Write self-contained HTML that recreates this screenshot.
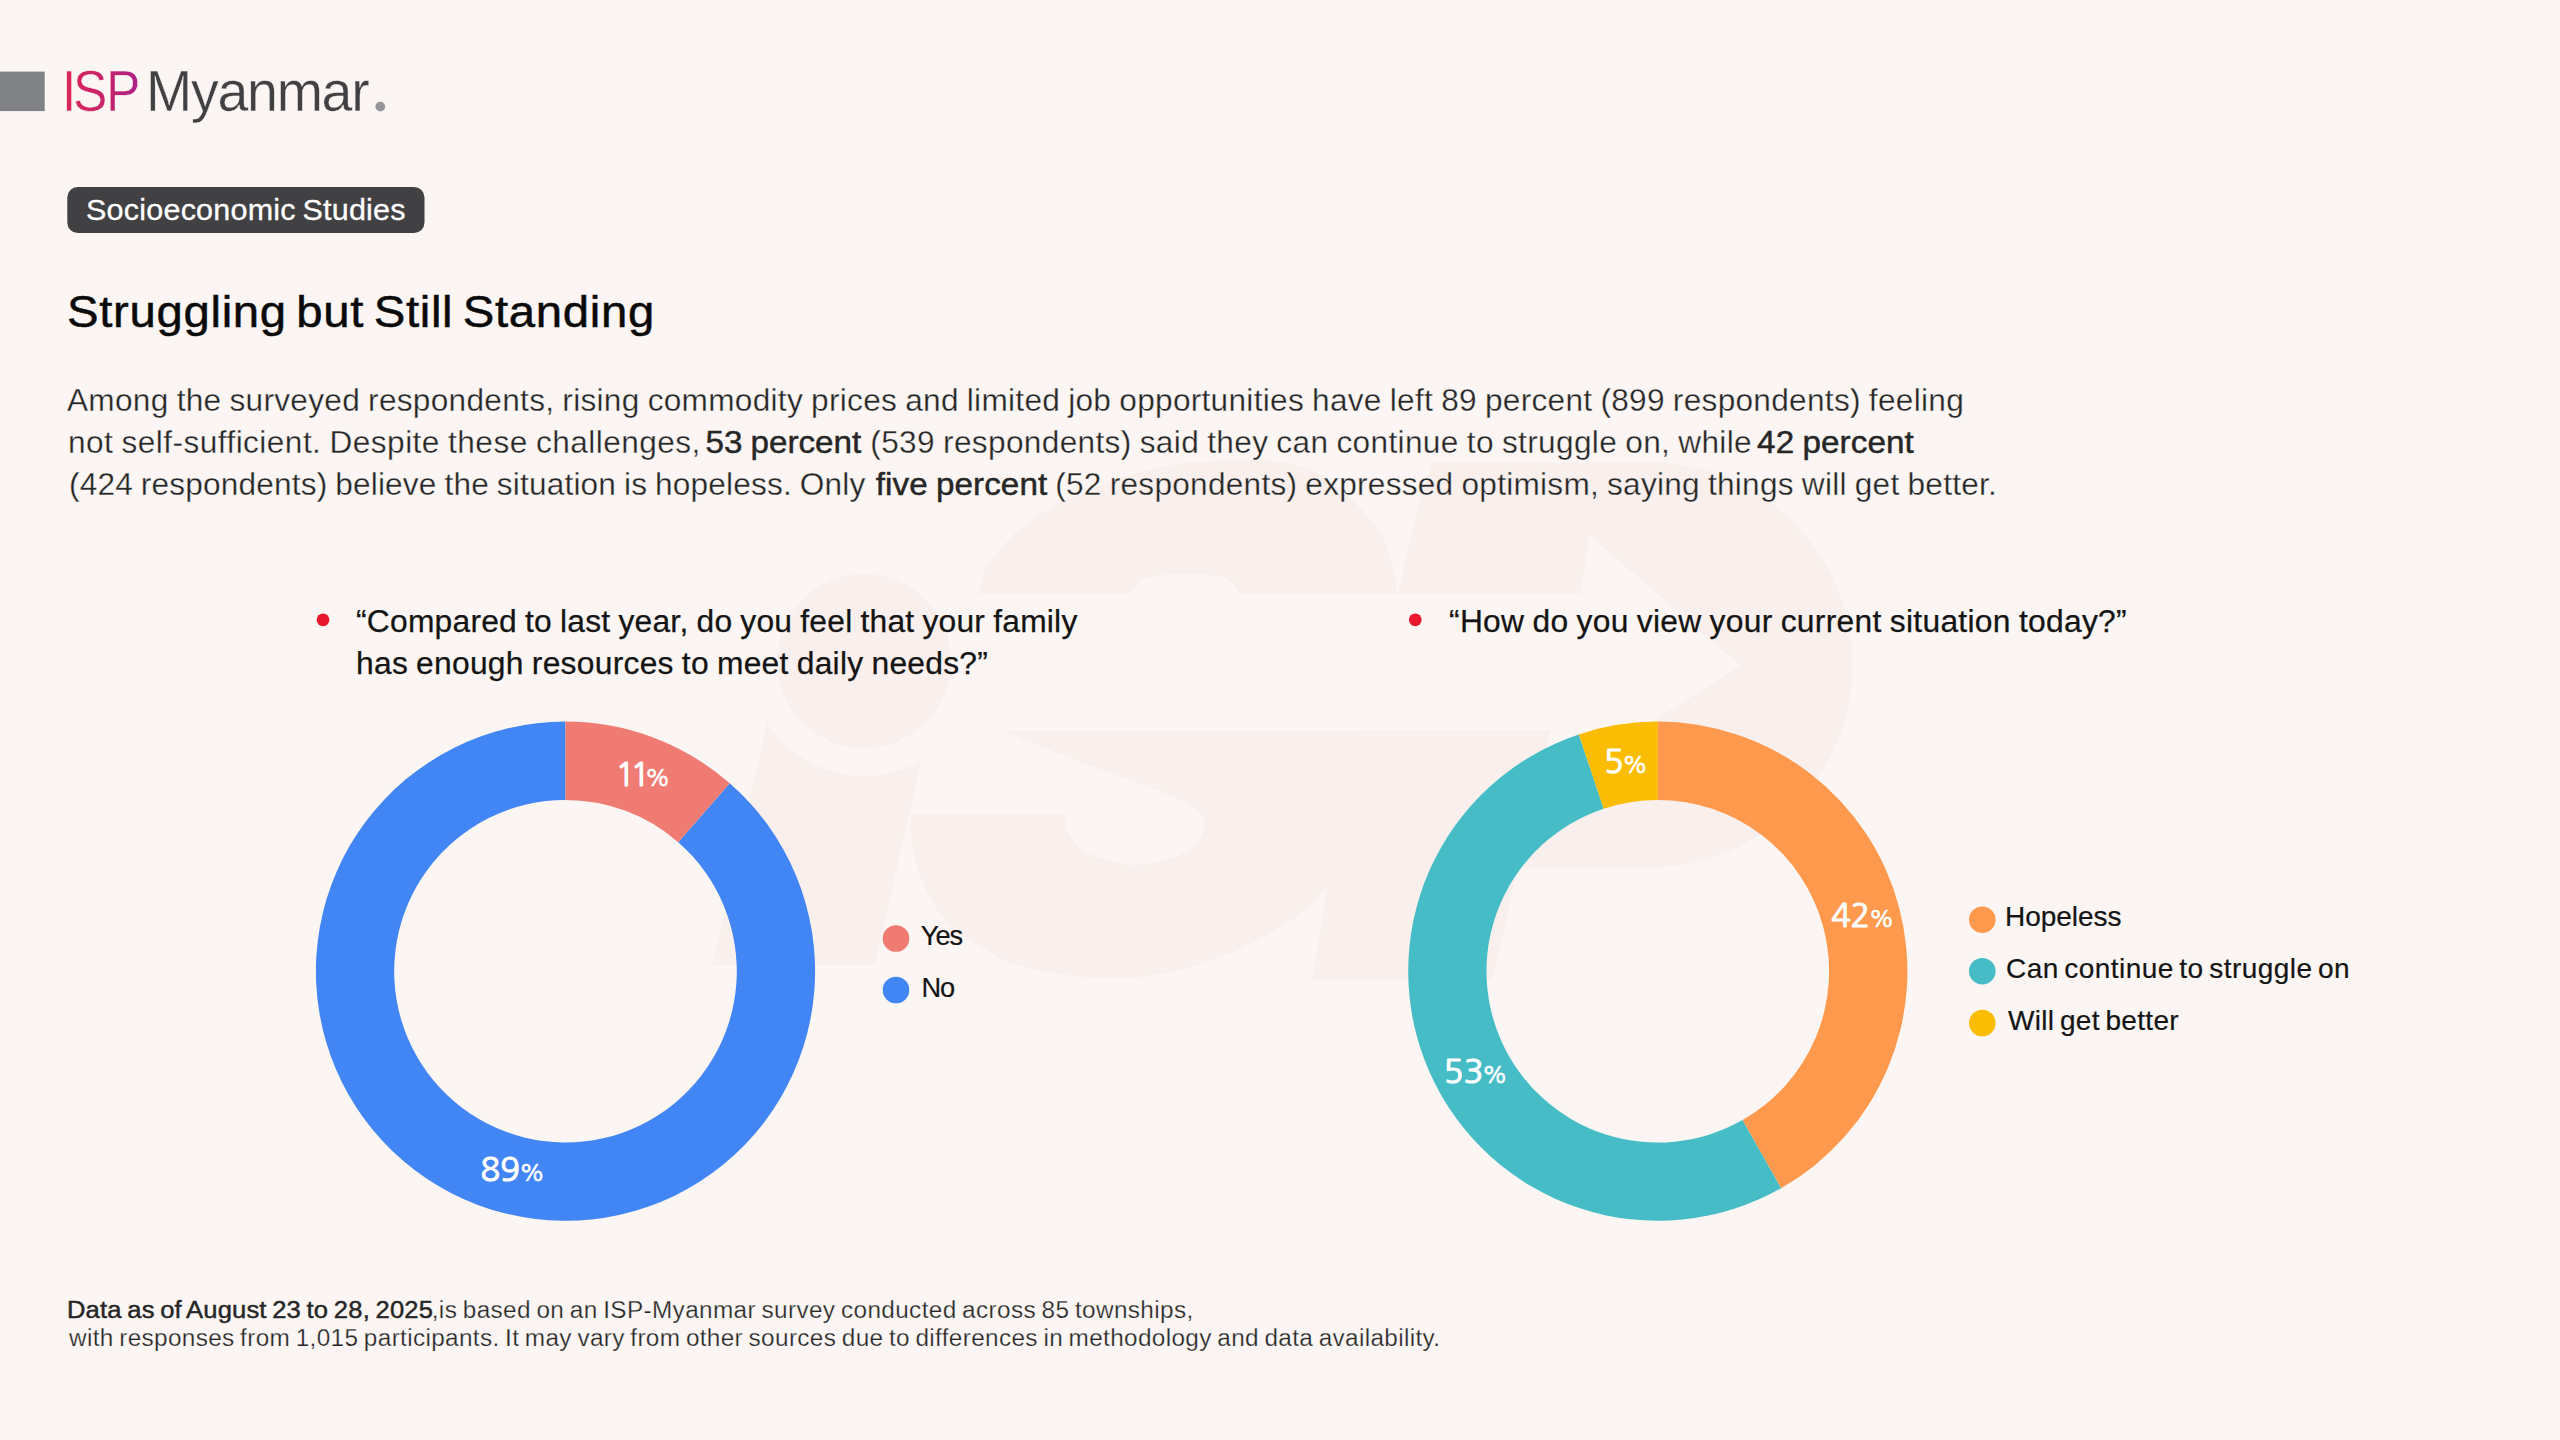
<!DOCTYPE html>
<html lang="en"><head><meta charset="utf-8"><title>Struggling but Still Standing</title>
<style>
html,body{margin:0;padding:0;}
body{width:2560px;height:1440px;background:#fbf6f3;position:relative;overflow:hidden;font-family:"Liberation Sans", sans-serif;}
.t{position:absolute;white-space:pre;line-height:1;margin:0;-webkit-text-stroke-color:currentColor;}
.t b{font-weight:400;-webkit-text-stroke:0.45px currentColor;}
.t small{font-size:23.5px;-webkit-text-stroke-width:0.7px;}
svg{position:absolute;left:0;top:0;}
</style></head><body>
<svg width="2560" height="1440" viewBox="0 0 2560 1440" style="position:absolute;left:0;top:0">
<path fill="#f9efec" d="M784.3 645L947.1 647L875 965L712.5 965Z"/>
<circle cx="864" cy="661" r="115" fill="#fbf6f3"/>
<circle cx="864" cy="661" r="87" fill="#f9efec"/>
<path fill="#f9efec" d="M979 596L979 594C980.0 590.2 981.9 577.9 985.0 571.0C988.1 564.1 992.3 558.9 997.5 552.5C1002.7 546.1 1008.8 539.0 1016.0 532.5C1023.2 526.0 1032.7 519.2 1041.0 513.8C1049.3 508.3 1052.4 506.0 1066.0 500.0C1079.6 494.0 1104.8 483.3 1122.5 477.5C1140.2 471.7 1155.8 467.8 1172.5 465.0C1189.2 462.2 1207.6 461.4 1222.5 460.6C1237.4 459.8 1249.1 459.1 1262.0 460.0C1274.9 460.9 1288.7 462.5 1300.0 466.0C1311.3 469.5 1320.8 474.8 1330.0 481.0C1339.2 487.2 1347.9 496.2 1355.0 503.0C1362.1 509.8 1367.5 515.3 1372.5 522.0C1377.5 528.7 1381.7 535.7 1385.0 543.0C1388.3 550.3 1390.4 557.8 1392.5 566.0C1394.6 574.2 1396.7 587.7 1397.5 592.0L1397.5 596Z"/>
<path fill="#f9efec" d="M1004 731L1410 731L1400 860L1327 888C1323.3 891.7 1312.8 903.4 1305.0 910.0C1297.2 916.6 1290.4 921.2 1280.0 927.5C1269.6 933.8 1255.0 941.7 1242.5 947.5C1230.0 953.3 1217.9 958.2 1205.0 962.5C1192.1 966.8 1178.3 970.4 1165.0 973.0C1151.7 975.6 1140.0 977.5 1125.0 978.0C1110.0 978.5 1090.8 977.7 1075.0 976.0C1059.2 974.3 1042.5 971.0 1030.0 968.0C1017.5 965.0 1013.3 965.2 1000.0 958.0C986.7 950.8 962.5 936.8 950.0 925.0C937.5 913.2 931.2 900.0 925.0 887.5C918.8 875.0 915.5 862.2 913.0 850.0C910.5 837.8 910.5 820.0 910.0 814.0L1065 814C1065.5 817.0 1064.2 825.5 1068.0 832.0C1071.8 838.5 1075.9 847.5 1087.5 853.0C1099.1 858.5 1120.8 865.3 1137.5 865.0C1154.2 864.7 1176.4 857.2 1187.5 851.0C1198.6 844.8 1202.8 835.2 1204.0 828.0C1205.2 820.8 1204.0 814.2 1195.0 807.5C1186.0 800.8 1170.0 795.4 1150.0 787.5C1130.0 779.6 1099.3 769.4 1075.0 760.0C1050.7 750.6 1015.8 735.8 1004.0 731.0Z"/>
<path fill="#f9efec" d="M1432 463L1650 462.5A202.5 202.5 0 0 1 1650 867.5L1518 867.5L1493 979.4L1312 979.4L1327 888L1398 592L1417.5 510Z"/>
<path fill="#fbf6f3" d="M960 593.7L1580.6 593.7L1589.4 535.6L1740.3 665.8L1535 796L1550 730.5L960 730.5Z"/>
<path fill="#fbf6f3" d="M1130 596C1134 582 1146 575.5 1162 575L1210 575C1226 575.5 1236 582 1239 596Z"/>
</svg>
<svg width="2560" height="1440" viewBox="0 0 2560 1440">
<rect x="0" y="71.6" width="44.7" height="39.5" fill="#808285"/>
<rect x="67.3" y="187" width="357.2" height="46" rx="10.5" fill="#414042"/>
<circle cx="323" cy="619.8" r="6.4" fill="#e8192c"/><circle cx="1415.3" cy="619.8" r="6.4" fill="#e8192c"/>
<path d="M729.72 783.23A249.6 249.6 0 1 1 565.50 721.60L565.50 799.90A171.3 171.3 0 1 0 678.20 842.20Z" fill="#4285f4"/>
<path d="M565.50 721.60A249.6 249.6 0 0 1 729.72 783.23L678.20 842.20A171.3 171.3 0 0 0 565.50 799.90Z" fill="#f07b72"/>
<path d="M1657.80 721.60A249.6 249.6 0 0 1 1781.15 1188.19L1742.45 1120.12A171.3 171.3 0 0 0 1657.80 799.90Z" fill="#ff994d"/>
<path d="M1781.15 1188.19A249.6 249.6 0 1 1 1578.83 734.42L1603.61 808.70A171.3 171.3 0 1 0 1742.45 1120.12Z" fill="#46bdc6"/>
<path d="M1578.83 734.42A249.6 249.6 0 0 1 1657.80 721.60L1657.80 799.90A171.3 171.3 0 0 0 1603.61 808.70Z" fill="#fbbc04"/>
<circle cx="896" cy="938.5" r="13.3" fill="#f07b72"/>
<circle cx="896" cy="990" r="13.3" fill="#4285f4"/>
<circle cx="1982.3" cy="919.7" r="13.3" fill="#ff994d"/>
<circle cx="1982.3" cy="971.2" r="13.3" fill="#46bdc6"/>
<circle cx="1982.3" cy="1023" r="13.3" fill="#fbbc04"/>
</svg>
<svg width="420" height="140" viewBox="0 0 420 140" style="position:absolute;left:0;top:0"><defs><linearGradient id="ispg" gradientUnits="userSpaceOnUse" x1="5" y1="0" x2="84" y2="0"><stop offset="0" stop-color="#d9265a"/><stop offset="0.5" stop-color="#c8246a"/><stop offset="1" stop-color="#ae1f84"/></linearGradient></defs>
<text id="logo_isp" x="0" y="111" transform="translate(61.9 0) scale(0.905 1)" font-family="'Liberation Sans', sans-serif" font-size="56.9" letter-spacing="-2" dx="0 -1.6 0.6" fill="url(#ispg)" stroke="#fbf6f3" stroke-width="0.45">ISP</text>
<circle cx="380.3" cy="106.6" r="4.9" fill="#939598"/></svg>
<div class="logo" id="logo_my" style="position:absolute;left:145.6px;top:62.75px;font-size:57.1px;line-height:1;white-space:pre;letter-spacing:-1.3px;transform:scaleX(0.972);transform-origin:0 0;color:#414042;-webkit-text-stroke:0.4px #fbf6f3;">Myanmar</div>

<div class="t" id="badge" style="left:85.800px;top:195.43px;font-size:29.5px;color:#ffffff;-webkit-text-stroke-width:0.3px;transform:scaleX(1.035);transform-origin:0 0;word-spacing:-2px;"><span style="letter-spacing:0.205px;">Socioeconomic Studies</span></div>
<div class="t" id="title" style="left:67.000px;top:290.05px;font-size:44px;color:#0a0a0a;-webkit-text-stroke-width:0.5px;transform:scaleX(1.075);transform-origin:0 0;word-spacing:-4px;"><span style="letter-spacing:0.634px;">Struggling but Still Standing</span></div>
<div class="t" id="p1" style="left:67.000px;top:384.76px;font-size:31px;color:#262626;-webkit-text-stroke:0.3px #fbf6f3;transform:scaleX(1.02);transform-origin:0 0;word-spacing:-1px;"><span style="letter-spacing:0.276px;">Among the surveyed respondents, rising commodity prices and limited job opportunities have left 89 percent (899 respondents) feeling</span></div>
<div class="t" id="p2" style="left:67.600px;top:426.86px;font-size:31px;color:#262626;-webkit-text-stroke:0.3px #fbf6f3;transform:scaleX(1.02);transform-origin:0 0;word-spacing:-1px;"><span style="letter-spacing:0.436px;">not self-sufficient. Despite these challenges,</span> <b style="letter-spacing:-0.011px;margin-left:-3.436px;display:inline-block;transform:scaleX(1.05);transform-origin:0 50%;">53 percent</b> <span style="letter-spacing:0.329px;margin-left:9.011px;">(539 respondents) said they can continue to struggle on, while</span> <b style="letter-spacing:0.089px;margin-left:-3.029px;display:inline-block;transform:scaleX(1.05);transform-origin:0 50%;">42 percent</b></div>
<div class="t" id="p3" style="left:69.000px;top:469.06px;font-size:31px;color:#262626;-webkit-text-stroke:0.3px #fbf6f3;transform:scaleX(1.02);transform-origin:0 0;word-spacing:-1px;"><span style="letter-spacing:0.157px;">(424 respondents) believe the situation is hopeless. Only</span> <b style="letter-spacing:0.064px;margin-left:2.043px;display:inline-block;transform:scaleX(1.05);transform-origin:0 50%;">five percent</b> <span style="letter-spacing:0.246px;margin-left:8.736px;">(52 respondents) expressed optimism, saying things will get better.</span></div>
<div class="t" id="q1a" style="left:356.000px;top:606.26px;font-size:31px;color:#141414;-webkit-text-stroke-width:0.25px;transform:scaleX(1.025);transform-origin:0 0;word-spacing:-1px;"><span style="letter-spacing:0.224px;">“Compared to last year, do you feel that your family</span></div>
<div class="t" id="q1b" style="left:356.200px;top:648.16px;font-size:31px;color:#141414;-webkit-text-stroke-width:0.25px;transform:scaleX(1.025);transform-origin:0 0;word-spacing:-1px;"><span style="letter-spacing:0.261px;">has enough resources to meet daily needs?”</span></div>
<div class="t" id="q2" style="left:1448.800px;top:606.26px;font-size:31px;color:#141414;-webkit-text-stroke-width:0.25px;transform:scaleX(1.025);transform-origin:0 0;word-spacing:-1px;"><span style="letter-spacing:0.291px;">“How do you view your current situation today?”</span></div>
<div class="t" id="l1a" style="left:920.800px;top:922.08px;font-size:27.2px;color:#141414;-webkit-text-stroke-width:0.2px;"><span style="letter-spacing:-1.000px;">Yes</span></div>
<div class="t" id="l1b" style="left:921.400px;top:973.78px;font-size:27.2px;color:#141414;-webkit-text-stroke-width:0.2px;"><span style="letter-spacing:-1.100px;">No</span></div>
<div class="t" id="l2a" style="left:2005.400px;top:903.38px;font-size:27.2px;color:#141414;-webkit-text-stroke-width:0.2px;transform:scaleX(1.03);transform-origin:0 0;word-spacing:-2.5px;"><span style="letter-spacing:-0.043px;">Hopeless</span></div>
<div class="t" id="l2b" style="left:2006.400px;top:954.98px;font-size:27.2px;color:#141414;-webkit-text-stroke-width:0.2px;transform:scaleX(1.03);transform-origin:0 0;word-spacing:-2.5px;"><span style="letter-spacing:0.427px;">Can continue to struggle on</span></div>
<div class="t" id="l2c" style="left:2008.000px;top:1006.68px;font-size:27.2px;color:#141414;-webkit-text-stroke-width:0.2px;transform:scaleX(1.03);transform-origin:0 0;word-spacing:-2.5px;"><span style="letter-spacing:0.321px;">Will get better</span></div>
<div class="t" id="f1" style="left:67.200px;top:1298.58px;font-size:23.3px;color:#262626;-webkit-text-stroke:0.25px #fbf6f3;transform:scaleX(1.045);transform-origin:0 0;word-spacing:-1.5px;"><b style="letter-spacing:0.148px;display:inline-block;transform:scaleX(1.05);transform-origin:0 50%;">Data as of August 23 to 28, 2025</b><span style="letter-spacing:0.347px;margin-left:15.452px;">,is based on an ISP-Myanmar survey conducted across 85 townships,</span></div>
<div class="t" id="f2" style="left:69.200px;top:1326.88px;font-size:23.3px;color:#262626;-webkit-text-stroke:0.25px #fbf6f3;transform:scaleX(1.045);transform-origin:0 0;word-spacing:-1.5px;"><span style="letter-spacing:0.326px;">with responses from 1,015 participants. It may vary from other sources due to differences in methodology and data availability.</span></div>
<div class="t" id="v11" style="left:615.600px;top:759.04px;font-size:32.4px;color:#ffffff;-webkit-text-stroke-width:1.2px;font-family:NanumGothic,'Liberation Sans',sans-serif;"><span style="letter-spacing:-4.700px;">11</span><small style="letter-spacing:0.000px;margin-left:-0.800px;">%</small></div>
<div class="t" id="v89" style="left:480.600px;top:1154.24px;font-size:32.4px;color:#ffffff;-webkit-text-stroke-width:1.2px;font-family:NanumGothic,'Liberation Sans',sans-serif;"><span style="letter-spacing:0.100px;">89</span><small style="letter-spacing:0.000px;margin-left:-0.800px;">%</small></div>
<div class="t" id="v5" style="left:1604.000px;top:746.34px;font-size:32.4px;color:#ffffff;-webkit-text-stroke-width:1.2px;font-family:NanumGothic,'Liberation Sans',sans-serif;"><span style="letter-spacing:0.000px;">5</span><small style="letter-spacing:0.000px;margin-left:-1.300px;">%</small></div>
<div class="t" id="v42" style="left:1831.200px;top:899.54px;font-size:32.4px;color:#ffffff;-webkit-text-stroke-width:1.2px;font-family:NanumGothic,'Liberation Sans',sans-serif;"><span style="letter-spacing:-0.400px;">42</span><small style="letter-spacing:0.000px;margin-left:-0.800px;">%</small></div>
<div class="t" id="v53" style="left:1443.800px;top:1055.54px;font-size:32.4px;color:#ffffff;-webkit-text-stroke-width:1.2px;font-family:NanumGothic,'Liberation Sans',sans-serif;"><span style="letter-spacing:0.400px;">53</span><small style="letter-spacing:0.000px;margin-left:-1.800px;">%</small></div>
</body></html>
